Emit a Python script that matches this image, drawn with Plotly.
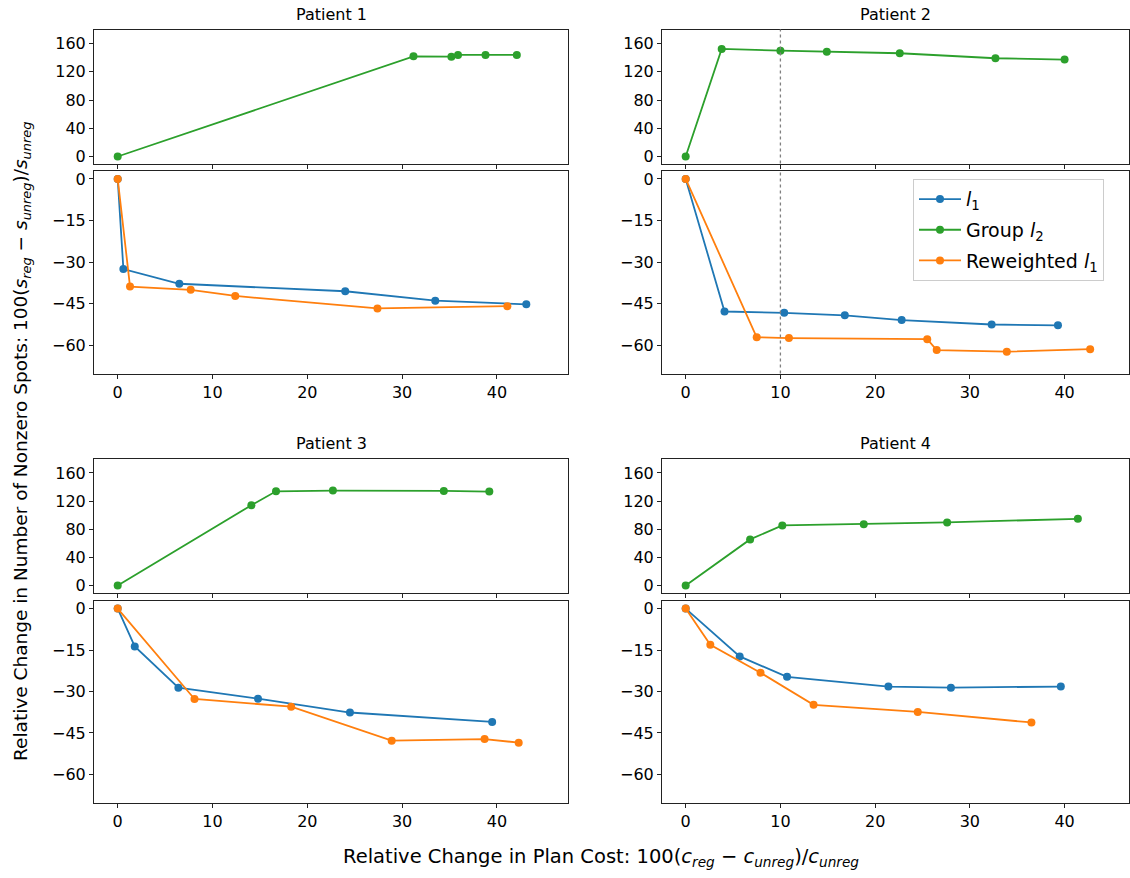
import plotly.graph_objects as go

# ---- data: relative change in plan cost (x) vs relative change in nonzero spots (y) ----
# Patient 1
p1_group_x = [0.0, 31.2, 35.2, 35.9, 38.8, 42.1]
p1_group_y = [0.0, 142.0, 141.6, 144.0, 144.0, 144.0]
p1_l1_x = [0.0, 0.6, 6.5, 24.0, 33.5, 43.1]
p1_l1_y = [0.0, -32.5, -37.8, -40.5, -43.9, -45.2]
p1_rw_x = [0.0, 1.3, 7.7, 12.4, 27.4, 41.1]
p1_rw_y = [0.0, -38.8, -40.0, -42.2, -46.7, -45.9]

# Patient 2
p2_group_x = [0.0, 3.8, 10.0, 14.9, 22.6, 32.7, 40.0]
p2_group_y = [0.0, 152.5, 150.1, 148.7, 146.4, 139.3, 137.4]
p2_l1_x = [0.0, 4.1, 10.4, 16.8, 22.8, 32.3, 39.3]
p2_l1_y = [0.0, -47.8, -48.3, -49.2, -50.9, -52.5, -52.8]
p2_rw_x = [0.0, 7.5, 10.9, 25.5, 26.5, 33.9, 42.7]
p2_rw_y = [0.0, -57.1, -57.4, -57.8, -61.7, -62.3, -61.4]

# Patient 3
p3_group_x = [0.0, 14.1, 16.7, 22.7, 34.4, 39.2]
p3_group_y = [0.0, 114.2, 134.0, 135.0, 134.5, 133.6]
p3_l1_x = [0.0, 1.8, 6.4, 14.8, 24.5, 39.5]
p3_l1_y = [0.0, -13.7, -28.6, -32.6, -37.6, -41.0]
p3_rw_x = [0.0, 8.1, 18.3, 28.9, 38.7, 42.3]
p3_rw_y = [0.0, -32.7, -35.5, -47.8, -47.2, -48.5]

# Patient 4
p4_group_x = [0.0, 6.8, 10.2, 18.8, 27.6, 41.4]
p4_group_y = [0.0, 65.6, 85.4, 87.3, 89.7, 94.9]
p4_l1_x = [0.0, 5.7, 10.7, 21.4, 28.0, 39.6]
p4_l1_y = [0.0, -17.3, -24.7, -28.2, -28.6, -28.2]
p4_rw_x = [0.0, 2.6, 7.9, 13.5, 24.5, 36.5]
p4_rw_y = [0.0, -13.1, -23.2, -34.8, -37.4, -41.2]

patient_titles = ["Patient 1", "Patient 2", "Patient 3", "Patient 4"]
top_yticks = [0, 40, 80, 120, 160]
bottom_yticks = [0, -15, -30, -45, -60]
x_ticks = [0, 10, 20, 30, 40]
marked_cost = 10  # dotted reference line drawn for Patient 2

BLUE, GREEN, ORANGE = "#1f77b4", "#2ca02c", "#ff7f0e"
FONT = "DejaVu Sans"

panels = [
    (p1_group_x, p1_group_y, p1_l1_x, p1_l1_y, p1_rw_x, p1_rw_y),
    (p2_group_x, p2_group_y, p2_l1_x, p2_l1_y, p2_rw_x, p2_rw_y),
    (p3_group_x, p3_group_y, p3_l1_x, p3_l1_y, p3_rw_x, p3_rw_y),
    (p4_group_x, p4_group_y, p4_l1_x, p4_l1_y, p4_rw_x, p4_rw_y),
]

W, H = 1130, 878
col_px = [(94, 568), (662, 1129)]
row_px = [((28.7, 163.3), (170.7, 374.3)), ((460.0, 594.3), (602.3, 805.3))]
x_ranges = [[-2.5, 47.5], [-2.5, 46.8]]


def xd(a, b):
    return [a / W, b / W]


def yd(a, b):
    return [1 - b / H, 1 - a / H]


fig = go.Figure()
layout = {}
annotations = []
shapes = []

names = {
    "l1": "<i>l</i><sub>1</sub>",
    "group": "Group <i>l</i><sub>2</sub>",
    "rw": "Reweighted <i>l</i><sub>1</sub>",
}

axis_common = dict(
    showline=True, mirror=True, linecolor="#222", linewidth=1,
    showgrid=False, zeroline=False, ticks="outside", ticklen=4,
    tickcolor="#222", tickwidth=1,
    tickfont=dict(family=FONT, size=16, color="black"),
)

for i, (gx, gy, lx, ly, rx, ry) in enumerate(panels):
    r, c = divmod(i, 2)
    top_n = 2 * i + 1
    bot_n = 2 * i + 2
    (t0, t1), (b0, b1) = row_px[r]
    c0, c1 = col_px[c]
    first = i == 0

    fig.add_trace(go.Scatter(
        x=gx, y=gy, mode="lines+markers", name=names["group"],
        line=dict(color=GREEN, width=1.8), marker=dict(color=GREEN, size=8),
        xaxis=f"x{top_n}", yaxis=f"y{top_n}",
        legendgroup="group", legendrank=2, showlegend=first,
    ))
    fig.add_trace(go.Scatter(
        x=lx, y=ly, mode="lines+markers", name=names["l1"],
        line=dict(color=BLUE, width=1.8), marker=dict(color=BLUE, size=8),
        xaxis=f"x{bot_n}", yaxis=f"y{bot_n}",
        legendgroup="l1", legendrank=1, showlegend=first,
    ))
    fig.add_trace(go.Scatter(
        x=rx, y=ry, mode="lines+markers", name=names["rw"],
        line=dict(color=ORANGE, width=1.8), marker=dict(color=ORANGE, size=8),
        xaxis=f"x{bot_n}", yaxis=f"y{bot_n}",
        legendgroup="rw", legendrank=3, showlegend=first,
    ))

    layout[f"xaxis{top_n}"] = dict(
        axis_common, domain=xd(c0, c1), anchor=f"y{top_n}",
        range=x_ranges[c], tickvals=x_ticks, showticklabels=False,
    )
    layout[f"yaxis{top_n}"] = dict(
        axis_common, domain=yd(t0, t1), anchor=f"x{top_n}",
        range=[-10, 180], tickvals=top_yticks,
    )
    layout[f"xaxis{bot_n}"] = dict(
        axis_common, domain=xd(c0, c1), anchor=f"y{bot_n}",
        range=x_ranges[c], tickvals=x_ticks,
    )
    layout[f"yaxis{bot_n}"] = dict(
        axis_common, domain=yd(b0, b1), anchor=f"x{bot_n}",
        range=[-70.2, 2.9], tickvals=bottom_yticks,
    )

    annotations.append(dict(
        text=patient_titles[i], x=(c0 + c1) / 2 / W, y=1 - (t0 - 4) / H,
        xref="paper", yref="paper", xanchor="center", yanchor="bottom",
        showarrow=False, font=dict(family=FONT, size=16, color="black"),
    ))

    if i == 1:
        for n in (top_n, bot_n):
            shapes.append(dict(
                type="line", xref=f"x{n}", yref=f"y{n} domain",
                x0=marked_cost, x1=marked_cost, y0=0, y1=1,
                line=dict(color="gray", width=1.3, dash="dot"),
            ))

annotations.append(dict(
    text=("Relative Change in Number of Nonzero Spots: 100(<i>s</i><sub><i>reg</i></sub>"
          " − <i>s</i><sub><i>unreg</i></sub>)/<i>s</i><sub><i>unreg</i></sub>"),
    x=22 / W, y=1 - 442 / H, xref="paper", yref="paper",
    xanchor="center", yanchor="middle", textangle=-90, showarrow=False,
    font=dict(family=FONT, size=18.5, color="black"),
))
annotations.append(dict(
    text=("Relative Change in Plan Cost: 100(<i>c</i><sub><i>reg</i></sub>"
          " − <i>c</i><sub><i>unreg</i></sub>)/<i>c</i><sub><i>unreg</i></sub>"),
    x=601 / W, y=1 - 860 / H, xref="paper", yref="paper",
    xanchor="center", yanchor="middle", showarrow=False,
    font=dict(family=FONT, size=19.5, color="black"),
))

fig.update_layout(
    **layout,
    width=W, height=H,
    margin=dict(l=0, r=0, t=0, b=0),
    paper_bgcolor="white", plot_bgcolor="white",
    annotations=annotations, shapes=shapes,
    font=dict(family=FONT, color="black"),
    legend=dict(
        x=913 / W, y=1 - 179 / H, xanchor="left", yanchor="top",
        bgcolor="rgba(255,255,255,0.85)", bordercolor="#cccccc", borderwidth=1,
        font=dict(family=FONT, size=19, color="black"),
        traceorder="grouped", tracegroupgap=3, itemwidth=42,
    ),
)

fig.write_html("out.html")
